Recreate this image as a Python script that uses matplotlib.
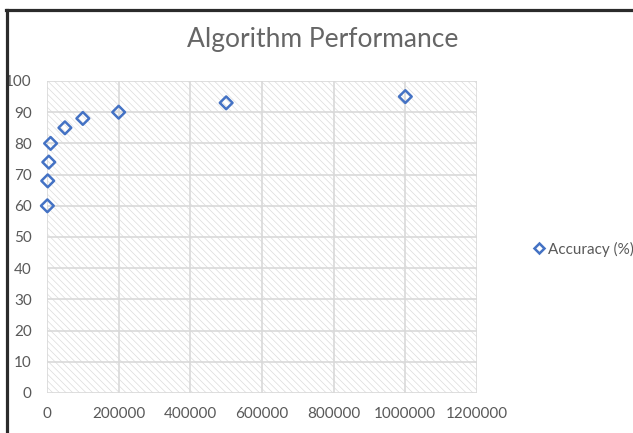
import matplotlib
matplotlib.use("Agg")
import matplotlib.pyplot as plt
from matplotlib.patches import Rectangle
from matplotlib.lines import Line2D
from matplotlib.ticker import FuncFormatter

# Data
training_size = [1000, 2000, 5000, 10000, 50000, 100000, 200000, 500000, 1000000]
accuracy = [60, 68, 74, 80, 85, 88, 90, 93, 95]
series_name = "Accuracy (%)"
title = "Algorithm Performance"
x_ticks = [0, 200000, 400000, 600000, 800000, 1000000, 1200000]
y_ticks = [0, 10, 20, 30, 40, 50, 60, 70, 80, 90, 100]

plt.rcParams['font.family'] = ['Lato', 'DejaVu Sans']
plt.rcParams['hatch.linewidth'] = 0.5

fig = plt.figure(figsize=(6.33, 4.33), dpi=100)
ax = fig.add_axes([47/633, 1 - 393/433, (477 - 47)/633, (393 - 81)/433])

blue = '#4472C4'
gray_text = '#595959'
grid_c = '#D9D9D9'

ax.set_facecolor('white')
ax.add_patch(Rectangle((0, 0), 1, 1, transform=ax.transAxes, facecolor='white',
                       edgecolor='#DCDCDC', hatch='\\\\\\\\\\', lw=0, zorder=0))

ax.scatter(training_size, accuracy, marker='D', s=42, facecolors='none',
           edgecolors=blue, linewidths=1.8, zorder=3, label=series_name, clip_on=False)

ax.set_xlim(0, 1200000)
ax.set_ylim(0, 100)
ax.set_xticks(x_ticks)
ax.set_yticks(y_ticks)
ax.xaxis.set_major_formatter(FuncFormatter(lambda v, p: f"{int(v)}"))
ax.yaxis.set_major_formatter(FuncFormatter(lambda v, p: f"{int(v)}"))
ax.grid(True, color=grid_c, linewidth=1.2, zorder=1)
ax.set_axisbelow(True)
for s in ax.spines.values():
    s.set_visible(False)
ax.tick_params(length=0, labelsize=11, labelcolor=gray_text)
ax.tick_params(axis='y', pad=11)
ax.tick_params(axis='x', pad=10)

fig.text(323/633, 1 - 40/433, title, ha='center', va='center', fontsize=19, color='#666666')

leg = fig.legend(handles=[Line2D([], [], marker='D', linestyle='none', markersize=5.5,
                                 markerfacecolor='none', markeredgecolor=blue,
                                 markeredgewidth=1.8)],
                 labels=[series_name], loc='center left',
                 bbox_to_anchor=(522/633, 1 - 249/433), frameon=False,
                 fontsize=11, handletextpad=0.0, handlelength=1.2, borderpad=0)
for t in leg.get_texts():
    t.set_color(gray_text)

# screenshot frame lines
fig.add_artist(Line2D([6/633, 1], [1 - 10/433, 1 - 10/433], transform=fig.transFigure,
                      color='#2b2b2b', linewidth=2.3))
fig.add_artist(Line2D([7/633, 7/633], [0, 1 - 10/433], transform=fig.transFigure,
                      color='#2b2b2b', linewidth=2.3))

fig.savefig('out.png', dpi=100)
